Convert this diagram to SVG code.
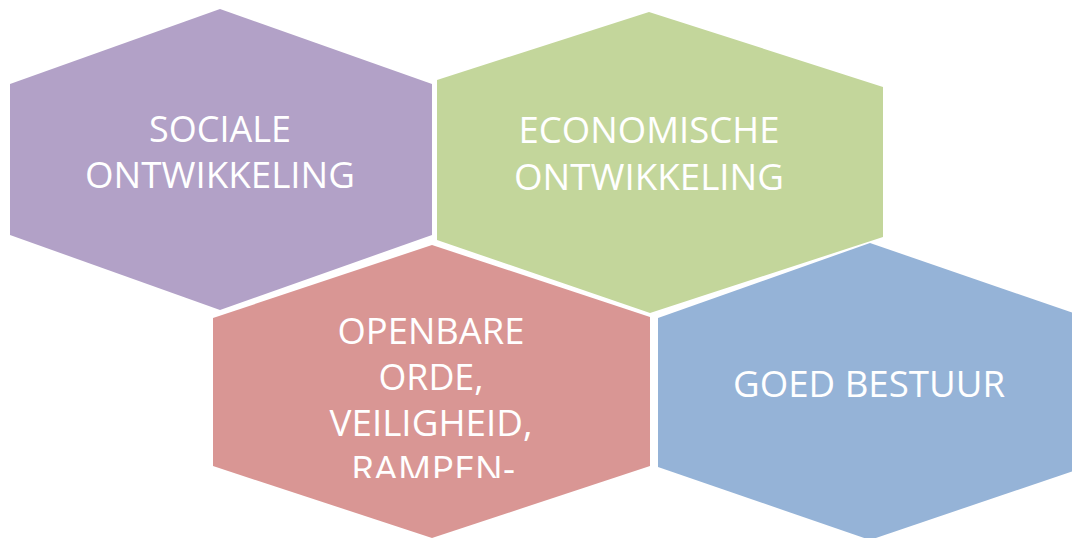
<svg xmlns="http://www.w3.org/2000/svg" width="1072" height="538" viewBox="0 0 1072 538">
<style>
.lbl{font-family:"Open Sans","Liberation Sans",sans-serif;font-size:37px;fill:#ffffff;text-anchor:middle}
</style>
<defs>
<clipPath id="redclip"><rect x="213" y="300" width="437" height="178"/></clipPath>
</defs>
<rect width="1072" height="538" fill="#ffffff"/>
<g id="sociale">
<polygon points="220,9 432,84 432,235 220,310 10,235 10,84" fill="#B2A1C7"/>
<text class="lbl" x="220" y="142" textLength="142" lengthAdjust="spacingAndGlyphs">SOCIALE</text>
<text class="lbl" x="220" y="188" textLength="270" lengthAdjust="spacingAndGlyphs">ONTWIKKELING</text>
</g>
<g id="economische">
<polygon points="649,12 883,87 883,237 650,313 437,240 437,80" fill="#C3D69B"/>
<text class="lbl" x="649" y="143" textLength="261" lengthAdjust="spacingAndGlyphs">ECONOMISCHE</text>
<text class="lbl" x="649" y="190" textLength="270" lengthAdjust="spacingAndGlyphs">ONTWIKKELING</text>
</g>
<g id="openbare-orde">
<polygon points="432,245 650,317 650,466 432,538 213,466 213,318" fill="#D99694"/>
<g clip-path="url(#redclip)">
<text class="lbl" x="431" y="343.5" textLength="187" lengthAdjust="spacingAndGlyphs">OPENBARE</text>
<text class="lbl" x="431" y="389.5" textLength="105" lengthAdjust="spacingAndGlyphs">ORDE,</text>
<text class="lbl" x="431" y="435.5" textLength="203" lengthAdjust="spacingAndGlyphs">VEILIGHEID,</text>
<text class="lbl" x="433" y="482" textLength="164" lengthAdjust="spacingAndGlyphs">RAMPEN-</text>
</g>
</g>
<g id="goed-bestuur">
<polygon points="870,243 1082,316 1082,468 870,540 658,467 658,318" fill="#95B3D7"/>
<text class="lbl" x="869" y="396.7" textLength="272" lengthAdjust="spacingAndGlyphs">GOED BESTUUR</text>
</g>
<g id="connectors"/>
</svg>
